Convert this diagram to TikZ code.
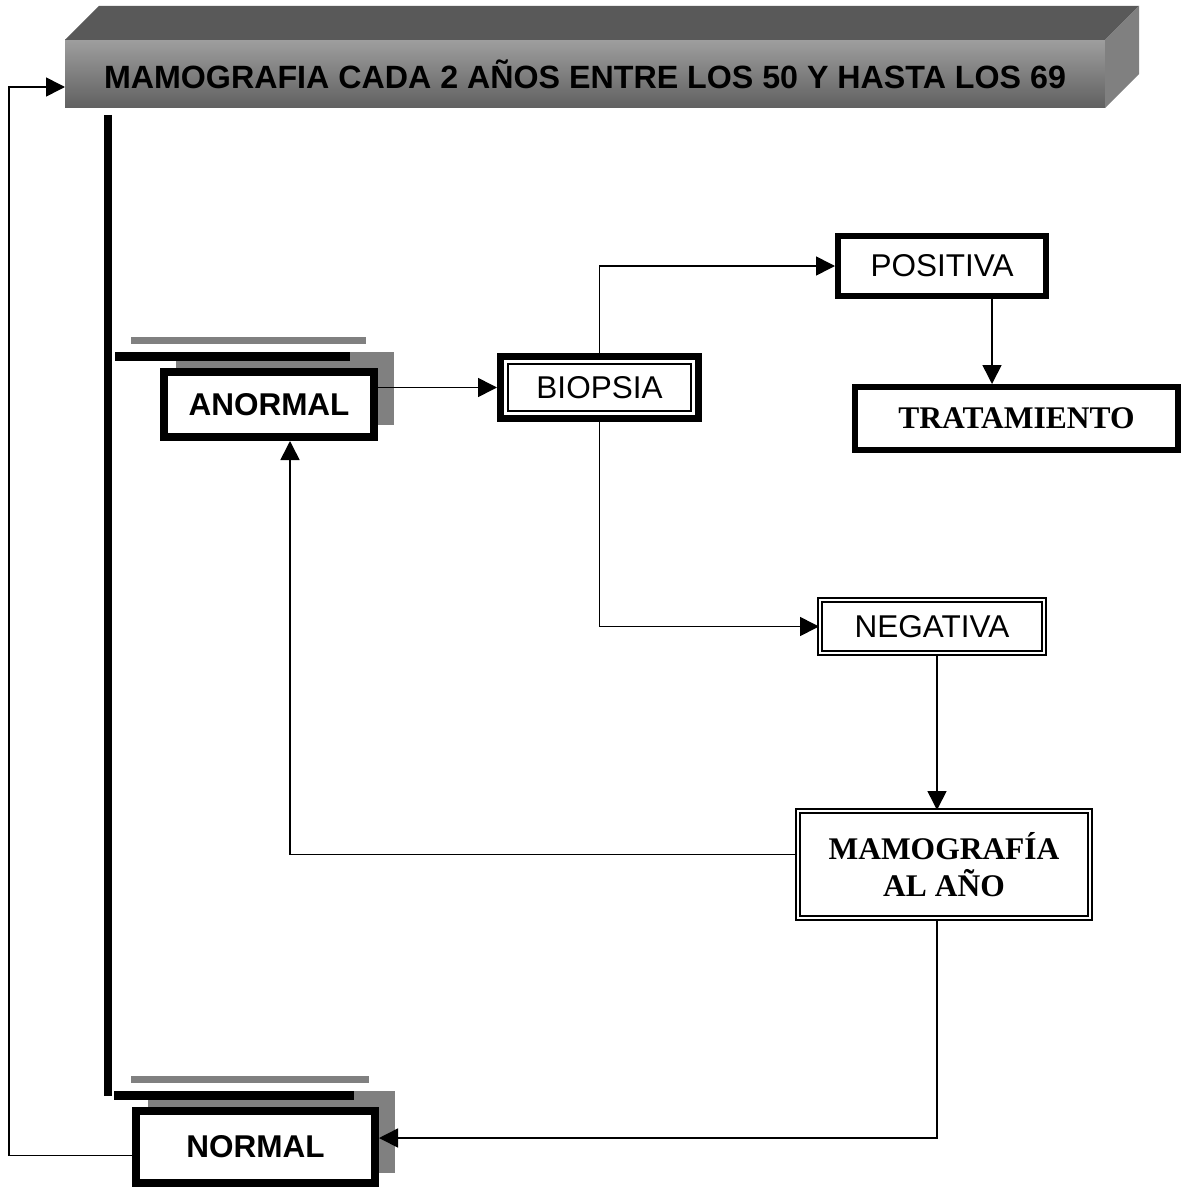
\documentclass[tikz,border=0pt]{standalone}
\usepackage{fontspec}
\setmainfont{Liberation Sans}
\newfontfamily\serifrm{Liberation Serif}
\usetikzlibrary{arrows.meta, calc}
\definecolor{grismedio}{RGB}{128,128,128}
\definecolor{grisoscuro}{RGB}{89,89,89}
\definecolor{frentealto}{RGB}{158,158,158}
\definecolor{frentebajo}{RGB}{96,96,96}
\newcommand{\tam}{\fontsize{31.5}{36.5}\selectfont}

\tikzset{
    caja/.style={draw, fill=white, inner sep=0pt, font=\tam},
    cajadoble/.style={caja, line width=2pt, double=white, double distance=2.5pt},
    conector/.style={line width=1.6pt, -{Triangle[length=19pt, width=19pt]}}
}

\begin{document}
\begin{tikzpicture}[x=1pt, y=-1pt]
            \useasboundingbox (0,0) rectangle (1183,1188);

            % Banner (3D bar)
            \node[inner sep=0pt, outer sep=0pt, minimum width=1040pt, minimum height=68pt,
                  top color=frentealto, bottom color=frentebajo, font=\fontsize{32.2}{36}\selectfont\bfseries]
                  (banner) at (585,74) {MAMOGRAFIA CADA 2 AÑOS ENTRE LOS 50 Y HASTA LOS 69};
            \fill[grisoscuro] (banner.north west) -- ++(34,-34) -- ++(1040,0) -- (banner.north east) -- cycle;
            \fill[grismedio] (banner.north east) -- ++(34,-34) -- ++(0,68) -- (banner.south east) -- cycle;

            % Vertical bar
            \draw[line width=7.5pt] (108,115) -- (108,1095.5);

            % Bars and shadows of the two results
            \fill[grismedio] (176,352) rectangle (394,425);
            \draw[grismedio, line width=7.5pt] (131,340.5) -- (366,340.5);
            \draw[line width=8.5pt] (115,356.5) -- (350,356.5);
            \fill[grismedio] (148,1091) rectangle (395,1173);
            \draw[grismedio, line width=7.5pt] (131,1079.5) -- (369,1079.5);
            \draw[line width=8.5pt] (114,1095.5) -- (354,1095.5);

            % Boxes
            \node[caja, line width=8pt, minimum width=210pt, minimum height=65pt] (anormal) at (269,404.5) {\bfseries ANORMAL};
            \node[caja, line width=8pt, minimum width=239pt, minimum height=72pt] (normal) at (255.5,1147) {\bfseries NORMAL};
            \node[caja, line width=7pt, minimum width=198pt, minimum height=62pt,
                  path picture={\draw[line width=2pt] ([shift={(7.5pt,-7.5pt)}]path picture bounding box.north west)
                  rectangle ([shift={(-7.5pt,7.5pt)}]path picture bounding box.south east);}]
                  (biopsia) at (599.5,387.5) {BIOPSIA};
            \node[caja, line width=6pt, minimum width=208pt, minimum height=60pt] (positiva) at (942,266) {POSITIVA};
            \node[caja, line width=6pt, minimum width=323pt, minimum height=63pt] (tratamiento) at (1016.5,418.5) {\serifrm\bfseries TRATAMIENTO};
            \node[cajadoble, minimum width=224pt, minimum height=53pt] (negativa) at (932,626.5) {NEGATIVA};
            \node[cajadoble, minimum width=292pt, minimum height=107pt, align=center] (mamografia) at (944,864.5)
                  {\serifrm\bfseries MAMOGRAFÍA\\\serifrm\bfseries AL AÑO\vphantom{\large X}};

            % Connectors
            \coordinate (retorno) at (9,600);
            \draw[conector] (anormal.east |- biopsia.west) -- (biopsia.west);
            \draw[conector] (biopsia.north) |- (positiva.west);
            \draw[conector] (biopsia.south) |- (negativa.west);
            \draw[conector] ([xshift=50pt]positiva.south) -- ([xshift=50pt]positiva.south |- tratamiento.north);
            \draw[conector] ([xshift=5pt]negativa.south) -- ([xshift=5pt]negativa.south |- mamografia.north);
            \draw[conector] ([yshift=10pt]mamografia.west) -| ([xshift=21pt]anormal.south);
            \draw[conector] ([xshift=-7pt]mamografia.south) |- ([yshift=9pt]normal.east);
            \draw[conector] ([yshift=-8.5pt]normal.west) -| (retorno) |- ([yshift=-13pt]banner.west);
        \end{tikzpicture}
\end{document}
